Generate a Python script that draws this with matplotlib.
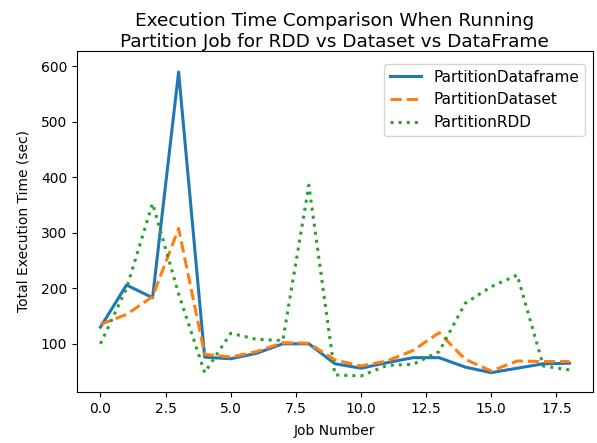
import matplotlib
matplotlib.use("Agg")
import matplotlib.pyplot as plt

# job numbers 0..18
jobs = list(range(19))

# total execution time (sec)
partition_dataframe = [130, 206, 183, 590, 76, 73, 83, 100, 100, 64, 56, 66, 75, 75, 58, 48, 56, 64, 65]
partition_dataset = [135, 153, 185, 308, 81, 76, 86, 102, 101, 71, 60, 69, 88, 120, 72, 51, 69, 68, 68]
partition_rdd = [100, 200, 353, 190, 48, 119, 108, 106, 386, 44, 42, 61, 63, 86, 173, 203, 224, 60, 53]

fig, ax = plt.subplots(figsize=(5.97, 4.43), dpi=100)
ax.plot(jobs, partition_dataframe, '-', lw=2.2, label='PartitionDataframe')
ax.plot(jobs, partition_dataset, '--', lw=2.2, label='PartitionDataset')
ax.plot(jobs, partition_rdd, ':', lw=2.2, label='PartitionRDD')

ax.set_ylim(13, 628)
ax.set_title('Execution Time Comparison When Running\nPartition Job for RDD vs Dataset vs DataFrame',
             fontsize=13.3, pad=2)
ax.set_xlabel('Job Number', labelpad=6)
ax.set_ylabel('Total Execution Time (sec)', labelpad=7.5)
ax.legend(loc='upper right', fontsize=11, bbox_to_anchor=(1, 0.985))

plt.subplots_adjust(left=0.129, right=0.993, bottom=0.115, top=0.885)
plt.savefig('out.png')
